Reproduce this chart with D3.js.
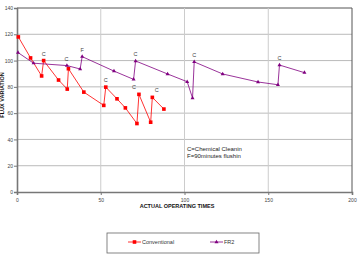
<!DOCTYPE html>
<html>
<head>
<meta charset="utf-8">
<script src="https://cdn.jsdelivr.net/npm/d3@7"></script>
<style>
  body { margin: 0; background: #fff; }
  svg { font-family: "Liberation Sans", Arial, sans-serif; }
</style>
</head>
<body>
<div id="graf"></div>
<script>
// datos
var convX = [0.8, 8.1, 14.7, 15.9, 24.8, 30, 30.7, 39.9, 51.8, 53, 59.7, 64.7, 71.6, 72.8, 79.8, 80.8, 87.7]
var convY = [118, 102, 88.3, 100, 85.2, 78.3, 93.8, 76, 65.9, 79.8, 70.9, 64, 52.1, 74.3, 53.1, 72, 63.1]
var fr2X = [0.6, 9.9, 29.8, 37.7, 38.9, 57.9, 69.6, 70.8, 89.9, 101.6, 104.8, 105.8, 122.8, 143.9, 155.8, 156.7, 171.6]
var fr2Y = [106.1, 98, 96.2, 93.6, 103, 92, 85.7, 99.7, 89.8, 83.9, 71.5, 99, 89.8, 83.7, 81.6, 96.6, 90.8]
// etiquetas C / F : [tiempo, flujo, texto]
var marcas = [[15.9, 100, 'C'], [29.5, 96.2, 'C'], [38.9, 103, 'F'], [53, 79.8, 'C'],
              [69.9, 74.3, 'C'], [70.8, 99.7, 'C'], [83.5, 72, 'C'], [105.8, 99, 'C'], [156.7, 96.6, 'C']]
var xTicks = [0, 50, 100, 150, 200]
var yTicks = [0, 20, 40, 60, 80, 100, 120, 140]
var nota = ['C=Chemical Cleanin', 'F=90minutes flushin']

var ancho_total = 359, alto_total = 257
var margins = { top: 8, left: 17, right: 7, bottom: 65 }
var ancho = ancho_total - margins.left - margins.right
var alto = alto_total - margins.top - margins.bottom

var svg = d3.select('#graf').append('svg')
  .attr('width', ancho_total)
  .attr('height', alto_total)

var g = svg.append('g')
  .attr('transform', `translate(${margins.left}, ${margins.top})`)

var x = d3.scaleLinear().domain([0, 200]).range([0, ancho])
var y = d3.scaleLinear().domain([0, 140]).range([alto, 0])

// rejilla
g.selectAll('.hgrid').data(yTicks.slice(1)).enter().append('line')
  .attr('x1', 0).attr('x2', ancho)
  .attr('y1', d => y(d)).attr('y2', d => y(d))
  .attr('stroke', d => d == 140 ? '#555' : '#aaa')
  .attr('stroke-width', d => d == 140 ? 1 : 0.8)
g.selectAll('.vgrid').data(xTicks.slice(1, -1)).enter().append('line')
  .attr('y1', 0).attr('y2', alto)
  .attr('x1', d => x(d)).attr('x2', d => x(d))
  .attr('stroke', '#ccc').attr('stroke-width', 1)
g.append('line').attr('x1', ancho).attr('x2', ancho).attr('y1', 0).attr('y2', alto)
  .attr('stroke', '#555').attr('stroke-width', 1)

// ejes
var xAxis = g.append('g').attr('transform', `translate(0, ${alto})`)
  .call(d3.axisBottom(x).tickValues(xTicks).tickSize(3).tickPadding(3))
var yAxis = g.append('g')
  .call(d3.axisLeft(y).tickValues(yTicks).tickSize(3).tickPadding(1))
;[xAxis, yAxis].forEach(a => {
  a.select('.domain').attr('stroke', '#777').attr('stroke-width', 1.6)
  a.selectAll('.tick line').attr('stroke', '#777')
  a.selectAll('.tick text').attr('fill', '#444').style('font-size', '5px')
})

// series
var lineaGen = d3.line().x(d => x(d[0])).y(d => y(d[1]))
var conv = d3.zip(convX, convY)
var fr2 = d3.zip(fr2X, fr2Y)

g.append('path').datum(conv).attr('d', lineaGen)
  .attr('fill', 'none').attr('stroke', '#ff0000').attr('stroke-width', 0.8)
g.selectAll('.sq').data(conv).enter().append('rect')
  .attr('x', d => x(d[0]) - 1.8).attr('y', d => y(d[1]) - 1.8)
  .attr('width', 3.6).attr('height', 3.6).attr('fill', '#ff0000')

g.append('path').datum(fr2).attr('d', lineaGen)
  .attr('fill', 'none').attr('stroke', '#800080').attr('stroke-width', 0.8)
var tri = d3.symbol().type(d3.symbolTriangle).size(7)
g.selectAll('.tri').data(fr2).enter().append('path')
  .attr('d', tri)
  .attr('transform', d => `translate(${x(d[0])}, ${y(d[1])})`)
  .attr('fill', '#800080')

// etiquetas C / F
g.selectAll('.marca').data(marcas).enter().append('text')
  .attr('x', d => x(d[0]))
  .attr('y', d => y(d[1]) - 5)
  .attr('text-anchor', 'middle')
  .attr('fill', '#444')
  .style('font-size', '5.5px')
  .text(d => d[2])

// nota
g.append('text').attr('x', x(101.5)).attr('y', y(31.5))
  .attr('fill', '#222').style('font-size', '6px')
  .selectAll('tspan').data(nota).enter().append('tspan')
  .attr('x', x(101.5)).attr('dy', (d, i) => i ? 7 : 0)
  .text(d => d)

// titulos
svg.append('text').attr('x', 177).attr('y', 208)
  .attr('text-anchor', 'middle').style('font-size', '5.5px').style('font-weight', 'bold')
  .attr('fill', '#111')
  .text('ACTUAL OPERATING TIMES')
svg.append('text')
  .attr('transform', 'translate(4, 95) rotate(-90)')
  .attr('text-anchor', 'middle').style('font-size', '5.5px').style('font-weight', 'bold')
  .attr('fill', '#111')
  .text('FLUX VARIATION')

// leyenda
var ley = svg.append('g')
ley.append('rect').attr('x', 107).attr('y', 233).attr('width', 152).attr('height', 20)
  .attr('fill', '#fff').attr('stroke', '#666').attr('stroke-width', 0.8)
var items = [['Conventional', '#ff0000', 128], ['FR2', '#800080', 210]]
items.forEach((it, i) => {
  ley.append('line').attr('x1', it[2]).attr('x2', it[2] + 13).attr('y1', 242).attr('y2', 242)
    .attr('stroke', it[1]).attr('stroke-width', 0.8)
  if (i == 0) {
    ley.append('rect').attr('x', it[2] + 4.7).attr('y', 240.2).attr('width', 3.6).attr('height', 3.6).attr('fill', it[1])
  } else {
    ley.append('path').attr('d', tri).attr('transform', `translate(${it[2] + 6.5}, 242)`).attr('fill', it[1])
  }
  ley.append('text').attr('x', it[2] + 14).attr('y', 244).style('font-size', '5.5px')
    .attr('fill', '#333').text(it[0])
})
</script>
</body>
</html>
